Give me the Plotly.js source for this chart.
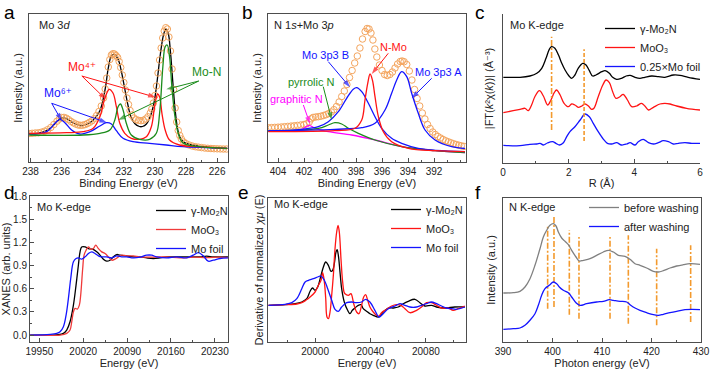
<!DOCTYPE html>
<html><head><meta charset="utf-8">
<script src="https://cdn.plot.ly/plotly-3.0.1.min.js"></script>
<style>html,body{margin:0;padding:0;background:#fff}#chart{width:711px;height:370px}</style>
</head><body><div id="chart"></div>
<script>
// ---------- Panel a : Mo 3d XPS ----------
const aExpBE = [238.1,237.9,237.7,237.5,237.3,237.1,236.9,236.7,236.5,236.3,236.15,236.0,235.85,235.7,235.55,235.4,235.25,235.1,234.95,234.8,234.65,234.5,234.35,234.2,234.05,233.9,233.75,233.6,233.45,233.3,233.2,233.1,233.0,232.9,232.8,232.7,232.6,232.5,232.4,232.3,232.2,232.1,232.0,231.9,231.8,231.7,231.6,231.5,231.35,231.2,231.05,230.9,230.75,230.6,230.45,230.3,230.2,230.1,230.0,229.9,229.8,229.7,229.6,229.5,229.4,229.3,229.2,229.1,229.0,228.9,228.8,228.7,228.6,228.5,228.4,228.3,228.15,228.0,227.8,227.6,227.4,227.2,227.0,226.8,226.6,226.4,226.2,226.0,225.8,225.6,225.4];
const aExpInt = [28.5,28.7,29.0,29.2,29.8,30.8,32.3,34.5,37.5,40.8,43.0,44.5,44.6,43.8,42.3,40.6,39.2,38.0,37.1,36.7,36.8,37.4,38.4,39.7,41.2,43.3,46.5,50.5,56,64,73,84,95,102.5,107,108.3,108,106.5,104.5,100.5,94.5,87,79.5,72,64,57.5,51.5,47,44,42.3,41.6,41.3,41.7,43,45.2,49,53,59,66.5,76,89,102,114,124,131,134.3,133,125,111,93,72.5,54,40,31.5,26.5,23,20,18.3,17,16,15.3,14.8,14.4,14.0,13.7,13.5,13.3,13.2,13.1,13.0,13.0];
const aFitBE = [238.1,237.4,236.75,236.3,236.0,235.7,235.25,234.8,234.4,234.0,233.55,233.2,233.0,232.8,232.6,232.35,232.15,231.95,231.75,231.55,231.3,231.0,230.8,230.55,230.3,230.05,229.85,229.65,229.45,229.3,229.15,229.0,228.85,228.7,228.55,228.4,228.1,227.6,227.0,226.4,225.4];
const aFitInt = [28.5,29.0,33.5,40.5,44.0,43.5,39,36.5,37.5,41.5,51,73,94,106,107.5,102,90,74,58,45.5,38.5,35.5,35.5,38,45.5,60,82,108,127,133,129,110,80,52,34,25,19.5,17,15.5,14.5,13.5];
const aMo6BE = [238.08,236.96,236.43,236.11,235.79,235.36,234.83,234.18,233.54,233.12,232.80,232.48,232.05,231.41,230.34,229.27,228.21,225.34];
const aMo6Int = [27.7,30.3,38.7,42.7,39.3,32,28,30.3,36,39.3,38,31.3,23.7,20.3,18.7,17,15.3,13.7];
const aMo4BE = [238.08,235.68,234.61,233.97,233.54,233.22,232.94,232.69,232.48,232.26,231.94,231.52,230.98,230.55,230.23,230.02,229.83,229.70,229.55,229.34,229.06,228.42,227.14,225.34];
const aMo4Int = [28.7,29.3,30.3,33.7,45.3,63.7,72.7,68.7,55.3,38.7,28.7,23.7,22.7,25.3,35.3,55.3,68,65.3,48.7,32,22,17,15.3,13.7];
const aMoNBE = [238.08,234.61,233.54,232.90,232.58,232.37,232.22,232.05,231.84,231.52,230.98,230.34,229.91,229.70,229.49,229.34,229.21,229.06,228.91,228.74,228.53,228.21,227.14,225.34];
const aMoNInt = [27,27,28.7,32,42,55.3,58,52,38.7,27,22.7,22.7,28.7,48.7,95.3,115.3,117,105.3,75.3,48.7,30.3,19.3,15.3,13.7];
const aTickBE = [226,228,230,232,234,236,238];

// ---------- Panel b : N 1s + Mo 3p XPS ----------
const bExpBE = [404.75,404.5,404.25,404.0,403.75,403.5,403.25,403.0,402.75,402.5,402.25,402.0,401.8,401.6,401.45,401.3,401.1,400.9,400.7,400.5,400.3,400.1,399.9,399.7,399.5,399.3,399.1,398.9,398.7,398.5,398.3,398.1,397.9,397.7,397.5,397.3,397.15,397.0,396.85,396.7,396.55,396.4,396.2,396.0,395.8,395.6,395.4,395.2,395.0,394.8,394.6,394.45,394.3,394.1,393.9,393.7,393.5,393.3,393.1,392.9,392.7,392.5,392.3,392.1,391.9,391.7,391.5,391.3,391.1,390.9,390.7,390.5,390.3,390.1,389.9,389.7];
const bExpInt = [34.2,34.4,34.6,34.8,35.0,35.3,35.6,35.9,36.2,36.6,37.0,37.5,38.2,40.0,43.2,44.6,45.0,45.3,45.8,46.5,47.3,48.5,50,52.3,55.5,60,65.5,71,77.5,84.5,91.5,99,106,114,123,130.5,133.5,133,129,122,113,105,97,91.5,87.5,86.5,87.5,90,94,98,100.5,101,100.3,97.5,91,82,72.5,63.5,56,49,43,37.5,33.5,30,27.5,25.5,24,22.5,21.2,20.2,19.2,18.3,17.5,16.8,16.2,15.6];
const bMoB_BE = [404.74,402.18,400.90,400.13,399.36,398.72,398.21,397.95,397.56,397.05,396.54,396.03,395.26,394.49,393.21,389.62];
const bMoB_Int = [31,32.7,35.3,40.3,50.3,63.7,72.7,74.3,70.3,58.7,45.3,33.7,23.7,18.7,13.7,10.3];
const bMoA_BE = [404.74,399.62,397.56,396.54,395.77,395.26,394.87,394.49,394.10,393.72,393.21,392.69,391.92,390.64,389.62];
const bMoA_Int = [31,32.7,34.3,38.7,52,68.7,82,90.3,85.3,68.7,48.7,32,22,15.3,13.5];
const bNMoBE = [404.74,399.62,398.08,397.56,397.31,397.10,396.92,396.74,396.54,396.28,395.90,395.26,393.97,391.92,389.62];
const bNMoInt = [30.3,31.3,33.7,42,62,78.7,88,82,65.3,45.3,30.3,20.3,13.7,11.3,10.3];
const bPyrBE = [404.74,400.90,400.13,399.62,399.10,398.59,397.82,396.54,394.49,391.92,389.62];
const bPyrInt = [31,33.7,37,39.3,38,33.7,28.7,22,15.3,11.3,9.3];
const bGraBE = [404.74,402.18,401.62,401.15,400.13,398.33,396.54,394.49,391.92,389.62];
const bGraInt = [31,32.7,36.7,33.7,30.3,27,22,15.3,11.3,9.3];
const bTickBE = [392,394,396,398,400,402,404];

// ---------- Panel c : FT-EXAFS ----------
const cMo2N_R = [0.01,0.52,0.82,1.03,1.18,1.31,1.41,1.48,1.58,1.69,1.79,1.89,2.01,2.09,2.19,2.29,2.43,2.53,2.63,2.73,2.83,3.01,3.11,3.24,3.34,3.46,3.61,3.75,3.87,4.02,4.17,4.32,4.53,4.73,4.93,5.19,5.39,5.64,6.0];
const cMo2N_FT = [85.7,85.7,87,89.7,94.7,104.7,113.7,116.3,114.7,108,99.7,93,87,84.7,88,94.7,99.7,98,92.3,87,88,91.3,92.3,89.7,85.7,83.7,84.7,87,87.7,85.7,84.7,85.7,87,86.3,85.7,88,87.7,85.7,83.7];
const cMoO3_R = [0.01,0.31,0.52,0.67,0.77,0.87,0.97,1.11,1.23,1.36,1.46,1.56,1.63,1.74,1.86,1.99,2.09,2.19,2.29,2.40,2.50,2.60,2.70,2.77,2.90,3.04,3.14,3.24,3.34,3.44,3.56,3.66,3.79,3.92,4.07,4.22,4.32,4.43,4.58,4.78,4.93,5.09,5.29,5.59,6.0];
const cMoO3_FT = [50.3,52.3,53.7,54.7,52.3,58,66.3,72.3,67,58,63,70.3,73,68,59.7,56.3,59,58,55.7,57,59,57,53.7,54.7,66.3,78,83,80.3,71.3,64.7,66.3,68.7,63,56.3,57,59.7,57,53,55.7,59,59.7,59,57,54.7,53];
const cFoil_R = [0.01,0.52,0.82,1.03,1.13,1.23,1.35,1.51,1.61,1.72,1.84,1.94,2.04,2.19,2.35,2.50,2.63,2.75,2.90,3.06,3.18,3.31,3.46,3.61,3.77,3.87,4.02,4.12,4.27,4.43,4.58,4.73,4.88,5.04,5.19,5.34,5.54,5.75,6.0];
const cFoil_FT = [17.7,17.3,18.7,19,19.7,18,20,21.3,19.7,18,20.3,26.3,31.3,36.3,43,49,46.3,39.7,31.3,23.7,19.7,19,20.3,18,19,20.3,18,21.3,23.7,20.3,19,20.3,22.3,21.3,19,19.7,20.3,19.7,19.7];
const cMarkR = [1.48, 2.47];
const cMarkLo = [33, 22];
const cMarkHi = [126.3, 113.7];

// ---------- Panel d : XANES ----------
const dMo2N_E = [19935.2,19967.1,19980.3,19988.3,19993.6,19998.9,20004.3,20008.5,20012.2,20014.9,20017.5,20022.9,20028.2,20035.1,20041.5,20046.8,20052.1,20057.4,20062.7,20068.1,20073.4,20078.7,20089.3,20099.9,20110.6,20121.2,20131.8,20142.4,20153.1,20163.7,20174.3,20185.0,20195.6,20206.3,20216.9,20227.5,20238.1,20250.9];
const dMo2N_mu = [0,0,0.004,0.022,0.065,0.172,0.388,0.646,0.904,1.077,1.141,1.141,1.120,1.111,1.077,1.034,0.982,0.956,0.969,1.012,1.042,1.034,1.025,1.012,1.012,0.999,0.991,0.999,1.012,1.012,1.012,1.012,1.012,1.012,1.021,1.012,1.012,1.012];
const dMoO3_E = [19935.2,19983.0,19993.6,19998.9,20001.6,20004.3,20006.9,20010.6,20013.8,20015.9,20019.1,20021.3,20024.5,20028.2,20031.9,20036.2,20039.9,20044.1,20049.5,20054.8,20060.1,20065.4,20070.7,20076.0,20081.3,20089.3,20099.9,20110.6,20131.8,20153.1,20174.3,20195.6,20216.9,20238.1,20250.9];
const dMoO3_mu = [0,0,0.022,0.065,0.172,0.30,0.345,0.336,0.388,0.517,0.861,1.034,1.098,1.141,1.111,1.120,1.163,1.120,1.077,1.055,1.012,0.969,0.982,1.012,1.034,1.025,1.025,1.012,1.008,1.012,0.999,1.008,1.003,1.008,1.003];
const dFoil_E = [19935.2,19967.1,19977.7,19983.0,19988.3,19992.6,19996.3,20000.0,20004.3,20008.5,20012.2,20017.5,20022.9,20028.2,20033.5,20038.8,20044.1,20049.5,20057.4,20065.4,20073.4,20081.3,20089.3,20099.9,20110.6,20121.2,20129.2,20137.1,20153.1,20169.0,20185.0,20195.6,20203.6,20211.5,20219.5,20227.5,20238.1,20250.9];
const dFoil_mu = [0,0.009,0.022,0.043,0.108,0.258,0.474,0.732,0.948,0.991,0.999,0.982,1.012,1.055,1.077,1.055,1.025,1.012,1.012,0.999,1.025,1.012,1.012,0.999,1.008,1.034,1.034,1.012,0.999,1.012,0.999,1.034,1.068,1.025,0.956,0.969,0.991,0.999];

// ---------- Panel e : derivative XANES ----------
const eMo2N_E = [19966.4,19978.4,19985.6,19990.4,19994.0,19996.4,19998.1,20000.0,20001.9,20004.3,20006.0,20007.7,20009.6,20011.5,20012.7,20013.9,20015.1,20015.9,20016.8,20018.0,20019.2,20021.1,20023.5,20025.2,20026.9,20028.8,20031.2,20033.2,20034.8,20037.2,20039.6,20042.0,20046.1,20049.2,20052.9,20056.5,20060.1,20063.7,20067.3,20072.1,20075.7,20079.3,20084.1,20087.7,20093.7,20100.9,20108.1];
const eMo2N_D = [36.7,37.3,38.3,40,43.3,50.7,54,51.7,55,66.7,75,80,76.7,70.7,71.7,78.3,90,92.3,86.7,70,53.3,40,31.7,28.3,31.7,34,36.7,37.3,33.3,30.7,28.3,26.7,25,30,34,34,35,38.3,40.7,42.7,39.3,36,36.7,35,34,35,35];
const eMoO3_E = [19966.4,19978.4,19986.8,19990.4,19993.3,19996.4,20000.0,20002.4,20004.3,20005.5,20006.7,20007.7,20008.6,20009.6,20010.8,20012.0,20013.2,20014.4,20015.6,20016.6,20017.5,20018.7,20019.7,20020.9,20021.6,20024.0,20025.9,20027.9,20030.0,20031.7,20033.6,20035.1,20036.5,20038.0,20039.6,20042.0,20044.4,20046.1,20048.0,20051.7,20055.3,20058.9,20062.0,20064.9,20068.5,20073.3,20076.9,20080.5,20084.1,20087.7,20091.3,20096.1,20099.7,20103.3,20108.1];
const eMoO3_D = [36.7,37.3,38,39.3,41.7,45,50,56.7,61.7,69.3,60,43.3,25,23.3,30,46.7,66.7,93.3,110,116.7,110,83.3,63.3,50,48.3,46.7,48.3,38.3,30,28.3,36.7,45,47.3,41.7,35,30,26.7,25.7,29.3,32.7,36,37.3,36.7,33.3,29.3,31.7,35,39.3,39.3,36.7,34,34,31.7,33.3,36];
const eFoil_E = [19966.4,19978.4,19983.2,19986.8,19990.4,19992.8,19995.2,19998.8,20001.9,20004.3,20006.7,20009.1,20012.0,20014.4,20016.8,20019.2,20022.8,20026.4,20030.0,20033.6,20036.5,20039.6,20043.2,20046.1,20049.2,20052.9,20057.7,20061.3,20064.9,20068.5,20073.3,20076.9,20080.5,20084.1,20087.7,20091.3,20094.9,20098.5,20102.1,20108.1];
const eFoil_D = [36.7,37.7,39.3,43.3,53.3,60,61.7,63.3,65,66,61.7,53.3,41.7,32.7,30.7,35,39.3,40,39.3,40,42.7,40,31.7,25,28.3,33.3,36,38.3,36.7,35,35,36.7,38.3,40,38.3,36,34,33.3,32.7,35];

// ---------- Panel f : N K-edge NEXAFS ----------
const fBefore_E = [390.07,392.09,393.43,394.44,395.45,396.46,397.47,398.15,398.82,399.49,400.17,400.71,401.18,401.85,402.53,403.20,403.87,404.75,405.42,406.23,407.58,408.92,410.27,411.28,412.29,413.30,414.65,415.66,416.67,417.68,419.02,420.37,421.38,422.39,423.74,425.08,426.43,427.78,429.80];
const fBefore_I = [49,49.3,50.7,55,63.3,76.7,93.3,105,111.7,116.7,118.3,116,110,104,100.7,97.3,91.7,85,81,81.7,83.3,86.7,90,91.7,90,86.7,85.7,82.7,78.3,76.7,74,70.7,70,71.3,74,76,77.3,78.3,77.7];
const fAfter_E = [390.07,392.09,393.43,394.44,395.45,396.46,397.14,397.81,398.48,399.49,400.17,400.84,401.38,402.19,403.20,403.87,404.75,405.56,406.90,408.92,410.27,411.48,412.29,413.64,414.98,415.66,416.67,417.68,419.02,420.37,421.38,422.39,423.74,425.08,426.77,428.11,429.80];
const fAfter_I = [12.7,13.3,14,16.7,21.7,28.3,36.7,46.7,53.3,57.3,60,58.3,55,51.7,49.3,45,39.3,36.7,38.3,40,40.7,42.3,41.7,40.7,40,37.3,34,31.7,29.3,27.3,26.7,27.7,29.3,30.7,32.3,32.7,32.3];
const fMarkE = [399.02,400.30,403.40,405.35,411.62,415.32,421.04,427.91];
const fMarkLo = [33.3,35,27.3,23.3,23.3,18.3,16.7,20];
const fMarkHi = [117.3,126,111.7,105,105,106.7,93.3,96.7];

// ---------- styling ----------
const FONT = "'Liberation Sans', Arial, Helvetica, 'DejaVu Sans', sans-serif";
const AX = '#4d4d4d', TXT = '#222';
const ORANGE_PT = '#f4a55e', ORANGE_LN = '#f39a2e';
const RED = '#ff1414', BLUE = '#1414ff', GREEN = '#1b8c1b', MAGENTA = '#ff00ff';
const W = 711, H = 370;
const px = v => v / W, py = v => 1 - v / H;

function line(x, y, xa, ya, color, extra) {
  return Object.assign({x, y, xaxis: xa, yaxis: ya, mode: 'lines', type: 'scatter',
    line: {color, width: 1.3, shape: 'spline'}, showlegend: false, hoverinfo: 'skip'}, extra || {});
}
function pts(x, y, xa, ya) {
  return {x, y, xaxis: xa, yaxis: ya, mode: 'markers', type: 'scatter', showlegend: false, hoverinfo: 'skip',
    marker: {symbol: 'circle-open', size: 6.5, color: ORANGE_PT, line: {width: 1, color: ORANGE_PT}}};
}
const traces = [];
// a
traces.push(line(aFitBE, aFitInt, 'x', 'y', '#000'));
traces.push(pts(aExpBE, aExpInt, 'x', 'y'));
traces.push(line(aMo6BE, aMo6Int, 'x', 'y', BLUE));
traces.push(line(aMo4BE, aMo4Int, 'x', 'y', RED));
traces.push(line(aMoNBE, aMoNInt, 'x', 'y', GREEN));
// b
traces.push(pts(bExpBE, bExpInt, 'x2', 'y2'));
traces.push(line(bGraBE, bGraInt, 'x2', 'y2', MAGENTA));
traces.push(line(bPyrBE, bPyrInt, 'x2', 'y2', GREEN));
traces.push(line(bMoB_BE, bMoB_Int, 'x2', 'y2', BLUE));
traces.push(line(bMoA_BE, bMoA_Int, 'x2', 'y2', BLUE));
traces.push(line(bNMoBE, bNMoInt, 'x2', 'y2', RED));
// c
traces.push(line(cMo2N_R, cMo2N_FT, 'x3', 'y3', '#000', {name: 'γ-Mo₂N', showlegend: true, legend: 'legend'}));
traces.push(line(cMoO3_R, cMoO3_FT, 'x3', 'y3', RED, {name: 'MoO₃', showlegend: true, legend: 'legend'}));
traces.push(line(cFoil_R, cFoil_FT, 'x3', 'y3', BLUE, {name: '0.25×Mo foil', showlegend: true, legend: 'legend'}));
cMarkR.forEach((r, i) => traces.push(line([r, r], [cMarkLo[i], cMarkHi[i]], 'x3', 'y3', ORANGE_LN,
  {line: {color: ORANGE_LN, width: 1.6, dash: i === 0 ? '6px,2px,2px,2px' : '4px,2px'}})));
// d
traces.push(line(dMo2N_E, dMo2N_mu, 'x4', 'y4', '#000', {name: 'γ-Mo₂N', showlegend: true, legend: 'legend2'}));
traces.push(line(dMoO3_E, dMoO3_mu, 'x4', 'y4', '#f03a3a', {name: 'MoO₃', showlegend: true, legend: 'legend2'}));
traces.push(line(dFoil_E, dFoil_mu, 'x4', 'y4', BLUE, {name: 'Mo foil', showlegend: true, legend: 'legend2'}));
// e
traces.push(line(eMo2N_E, eMo2N_D, 'x5', 'y5', '#000', {name: 'γ-Mo₂N', showlegend: true, legend: 'legend3'}));
traces.push(line(eMoO3_E, eMoO3_D, 'x5', 'y5', RED, {name: 'MoO₃', showlegend: true, legend: 'legend3'}));
traces.push(line(eFoil_E, eFoil_D, 'x5', 'y5', BLUE, {name: 'Mo foil', showlegend: true, legend: 'legend3'}));
// f
fMarkE.forEach((e, i) => traces.push(line([e, e], [fMarkLo[i], fMarkHi[i]], 'x6', 'y6', ORANGE_LN,
  {line: {color: ORANGE_LN, width: 1.6, dash: '6px,2px,2px,2px'}})));
traces.push(line(fBefore_E, fBefore_I, 'x6', 'y6', '#808080', {name: 'before washing', showlegend: true, legend: 'legend4'}));
traces.push(line(fAfter_E, fAfter_I, 'x6', 'y6', BLUE, {name: 'after washing', showlegend: true, legend: 'legend4'}));

// pointer arrows (label -> peak): short lines with an arrow-head marker at the peak end
function pointer(xa, ya, tail, head, color) {
  traces.push({x: [tail[0], head[0]], y: [tail[1], head[1]], xaxis: xa, yaxis: ya, type: 'scatter',
    mode: 'lines+markers', showlegend: false, hoverinfo: 'skip', line: {color, width: 1},
    marker: {symbol: 'arrow', size: [0, 8], angleref: 'previous', color, line: {width: 0}}});
}
pointer('x', 'y', [234.7, 86], [233.16, 62.7], RED);
pointer('x', 'y', [234.7, 86], [229.95, 64.7], RED);
pointer('x', 'y', [236.64, 58.7], [236.0, 41.3], BLUE);
pointer('x', 'y', [236.64, 58.7], [233.08, 39.3], BLUE);
pointer('x', 'y', [227.18, 81], [229.27, 72.7], GREEN);
pointer('x', 'y', [227.18, 81], [232.37, 42], GREEN);
pointer('x2', 'y2', [400.13, 100.3], [398.46, 74.7], BLUE);
pointer('x2', 'y2', [395.52, 108.7], [396.79, 88], RED);
pointer('x2', 'y2', [392.18, 83.7], [393.72, 63.7], BLUE);
pointer('x2', 'y2', [400.52, 75.3], [399.87, 42], GREEN);
pointer('x2', 'y2', [402.05, 57], [401.54, 38], MAGENTA);

function axis(o) {
  const base = {showline: true, linecolor: AX, linewidth: 1, mirror: true, ticks: 'inside', ticklen: 4,
    tickwidth: 1, tickcolor: AX, showgrid: false, zeroline: false,
    tickfont: {size: 10, color: TXT, family: FONT}};
  const r = Object.assign(base, o);
  if (o.titleText !== undefined) {
    r.title = {text: o.titleText, font: {size: 11, color: TXT, family: FONT}, standoff: o.standoff || 2};
    delete r.titleText; delete r.standoff;
  }
  return r;
}
const minorX = d => ({dtick: d, ticklen: 2, ticks: 'inside', tickcolor: AX, tickwidth: 1});
const noTicks = {showticklabels: false, ticks: ''};

const topY = [py(162), py(14)], botY = [py(342), py(198)];
const layout = {
  width: W, height: H, margin: {l: 0, r: 0, t: 0, b: 0}, paper_bgcolor: '#fff', plot_bgcolor: '#fff',
  font: {family: FONT, color: TXT, size: 11},
  xaxis: axis({domain: [px(29), px(228)], anchor: 'y', range: [238.1, 225.3], tickmode: 'array', tickvals: aTickBE, minor: minorX(1), titleText: 'Binding Energy (eV)'}),
  yaxis: axis(Object.assign({domain: topY, anchor: 'x', range: [0, 148], titleText: 'Intensity (a.u.)', standoff: 3}, noTicks)),
  xaxis2: axis({domain: [px(268), px(466)], anchor: 'y2', range: [404.77, 389.54], tickmode: 'array', tickvals: bTickBE, minor: minorX(1), titleText: 'Binding Energy (eV)'}),
  yaxis2: axis(Object.assign({domain: topY, anchor: 'x2', range: [0, 148], titleText: 'Intensity (a.u.)', standoff: 3}, noTicks)),
  xaxis3: axis({domain: [px(503), px(700)], anchor: 'y3', range: [0, 6], tick0: 0, dtick: 2, minor: minorX(1), mirror: false, titleText: 'R (Å)'}),
  yaxis3: axis(Object.assign({domain: [py(163), py(14)], anchor: 'x3', range: [0, 149], mirror: false,
    titleText: '|FT(<i>k</i>²χ(<i>k</i>))| (Å⁻³)', standoff: 6}, noTicks)),
  xaxis4: axis({domain: [px(30), px(228)], anchor: 'y4', range: [19935, 20251], tick0: 19950, dtick: 70, tickformat: 'd', minor: minorX(35), titleText: 'Energy (eV)'}),
  yaxis4: axis({domain: [py(342), py(196)], anchor: 'x4', range: [-0.09, 1.8], tick0: 0, dtick: 0.3, tickformat: '.1f',
    minor: {dtick: 0.15, ticklen: 2, ticks: 'inside', tickcolor: AX}, titleText: 'XANES (arb. units)', standoff: 2}),
  xaxis5: axis({domain: [px(268), px(466)], anchor: 'y5', range: [19966, 20109], tick0: 20000, dtick: 40, tickformat: 'd', minor: minorX(20), titleText: 'Energy (eV)'}),
  yaxis5: axis(Object.assign({domain: botY, anchor: 'x5', range: [0, 144], titleText: 'Derivative of normalized <i>χμ</i> (E)', standoff: 1}, noTicks)),
  xaxis6: axis({domain: [px(503), px(701)], anchor: 'y6', range: [390, 430], tick0: 390, dtick: 10, minor: minorX(5), titleText: 'Photon energy (eV)'}),
  yaxis6: axis(Object.assign({domain: botY, anchor: 'x6', range: [0, 144], titleText: 'Intensity (a.u.)', standoff: 4}, noTicks)),
};
const legStyle = {xanchor: 'left', yanchor: 'top', bgcolor: 'rgba(0,0,0,0)', borderwidth: 0, itemwidth: 30,
  font: {size: 11, color: TXT, family: FONT}, tracegroupgap: 0};
layout.legend = Object.assign({x: px(600), y: py(14)}, legStyle);
layout.legend2 = Object.assign({x: px(151), y: py(196)}, legStyle);
layout.legend3 = Object.assign({x: px(386), y: py(195)}, legStyle);
layout.legend4 = Object.assign({x: px(584), y: py(193)}, legStyle);

const ann = [];
[['a', 2, 0], ['b', 240, 0], ['c', 473, 0], ['d', 2, 180], ['e', 236, 180], ['f', 473, 180]].forEach(([t, x, y]) =>
  ann.push({text: t, xref: 'paper', yref: 'paper', x: px(x), y: py(y), xanchor: 'left', yanchor: 'top', showarrow: false, font: {size: 19, color: '#000', family: FONT}}));
function label(text, xr, yr, x, y, color, anchor, size) {
  ann.push({text, xref: xr, yref: yr, x, y, xanchor: anchor || 'center', yanchor: 'middle', showarrow: false,
    font: {size: size || 11, color, family: FONT}});
}
label('Mo 3<i>d</i>', 'x', 'y', 237.6, 137, TXT, 'left');
label('Mo⁴⁺', 'x', 'y', 234.7, 95, RED, 'center', 12);
label('Mo⁶⁺', 'x', 'y', 236.22, 68.7, BLUE, 'center', 12);
label('Mo-N', 'x', 'y', 226.7, 90.3, GREEN, 'center', 12);
label('N 1<i>s</i>+Mo 3<i>p</i>', 'x2', 'y2', 404.46, 137, TXT, 'left');
label('Mo 3p3 B', 'x2', 'y2', 400.38, 107, BLUE);
label('N-Mo', 'x2', 'y2', 395.08, 115.3, RED);
label('Mo 3p3 A', 'x2', 'y2', 391.62, 90.3, BLUE);
label('pyrrolic N', 'x2', 'y2', 401.41, 80.3, GREEN);
label('graphitic N', 'x2', 'y2', 402.56, 62.7, MAGENTA);
label('Mo K-edge', 'x3', 'y3', 0.15, 138, TXT, 'left');
label('Mo K-edge', 'x4', 'y4', 19943, 1.655, TXT, 'left');
label('Mo K-edge', 'x5', 'y5', 19969, 137.7, TXT, 'left');
label('N K-edge', 'x6', 'y6', 390.8, 135, TXT, 'left');
layout.annotations = ann;

Plotly.newPlot('chart', traces, layout, {staticPlot: true, displayModeBar: false});
</script></body></html>
